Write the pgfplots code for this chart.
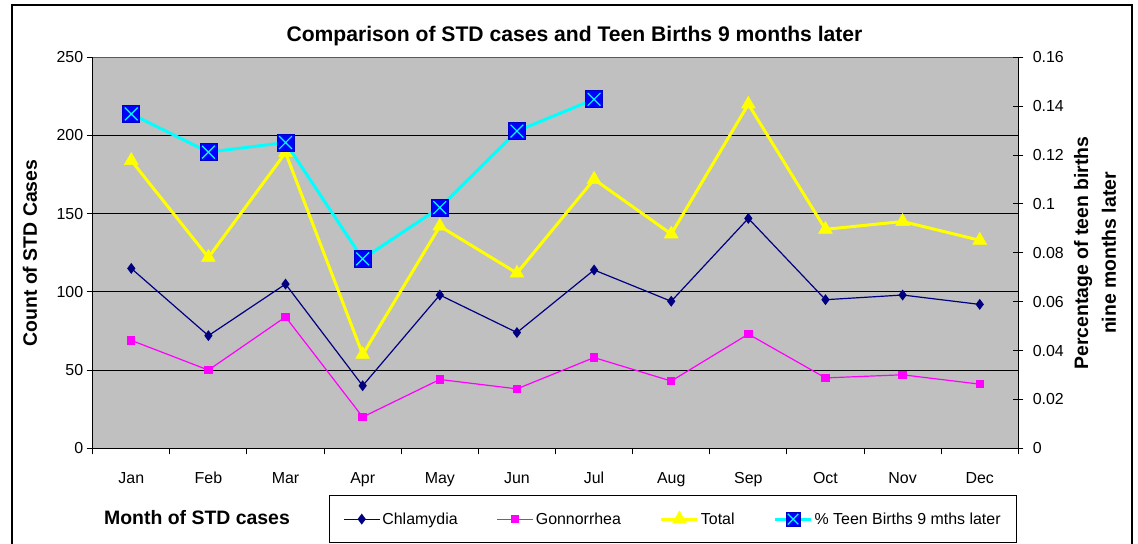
\documentclass[border=0pt]{standalone}
\usepackage{fontspec}
\setmainfont{Liberation Sans}
\usepackage{pgfplots}
\pgfplotsset{compat=1.18}
\definecolor{plotbg}{RGB}{192,192,192}
\definecolor{navy}{RGB}{0,0,128}
\definecolor{mag}{RGB}{255,0,255}
\definecolor{yel}{RGB}{255,255,0}
\definecolor{cyn}{RGB}{0,255,255}
\definecolor{blu}{RGB}{0,0,255}
\definecolor{bluedge}{RGB}{0,0,200}
\pgfdeclareplotmark{sqx}{%
  \pgfsetfillcolor{blu}\pgfsetstrokecolor{bluedge}\pgfsetlinewidth{0.8bp}%
  \pgfpathrectangle{\pgfpoint{-\pgfplotmarksize}{-\pgfplotmarksize}}{\pgfpoint{2\pgfplotmarksize}{2\pgfplotmarksize}}%
  \pgfusepathqfillstroke
  \pgfsetstrokecolor{cyn}\pgfsetlinewidth{1.2bp}%
  \pgfpathmoveto{\pgfpoint{-0.75\pgfplotmarksize}{-0.75\pgfplotmarksize}}%
  \pgfpathlineto{\pgfpoint{0.75\pgfplotmarksize}{0.75\pgfplotmarksize}}%
  \pgfpathmoveto{\pgfpoint{-0.75\pgfplotmarksize}{0.75\pgfplotmarksize}}%
  \pgfpathlineto{\pgfpoint{0.75\pgfplotmarksize}{-0.75\pgfplotmarksize}}%
  \pgfusepathqstroke
}
\newcommand{\tickfont}{\fontsize{16}{19}\selectfont}
\newcommand{\labfont}{\fontsize{19.5}{28}\selectfont\bfseries}
\begin{document}
\begin{tikzpicture}[x=1bp,y=1bp]
\useasboundingbox (0,0) rectangle (1138,544);
\fill[white] (0,0) rectangle (1138,544);
\draw[black, line width=1.3bp] (12,-2) -- (12,539) -- (1132,539) -- (1132,-2);
\begin{axis}[
  scale only axis, width=925.6bp, height=391bp,
  at={(92.7bp,95.7bp)}, anchor=south west,
  xmin=-0.5, xmax=11.5, ymin=0, ymax=250,
  axis background/.style={fill=plotbg},
  axis x line*=bottom, axis y line*=left,
  axis line style={-, black, line width=1bp},
  xtick={-0.5,0.5,1.5,2.5,3.5,4.5,5.5,6.5,7.5,8.5,9.5,10.5,11.5},
  xticklabels={},
  extra x ticks={0,1,2,3,4,5,6,7,8,9,10,11},
  extra x tick labels={Jan,Feb,Mar,Apr,May,Jun,Jul,Aug,Sep,Oct,Nov,Dec},
  extra x tick style={major tick length=0pt, xticklabel style={yshift=-20bp, text height=12bp, text depth=3.5bp}},
  ytick={0,50,100,150,200,250},
  yticklabels={0,50,100,150,200,250},
  extra y ticks={50,100,150,200},
  extra y tick labels={},
  extra y tick style={grid=major, major tick length=0pt},
  grid style={black, line width=0.8bp},
  tick align=outside, major tick length=6bp,
  tick style={black, line width=1bp},
  ticklabel style={font=\tickfont},
  legend columns=4,
  legend cell align=left,
  legend image code/.code={\draw[mark repeat=2,mark phase=2] plot coordinates {(0bp,0bp)(18bp,0bp)(36bp,0bp)};},
  legend style={at={(axis description cs:0.9986,-0.12)}, anchor=north east,
    draw=black, line width=0.8bp, fill=white, font=\tickfont,
    inner xsep=14bp, inner ysep=15bp,
    /tikz/every even column/.append style={column sep=37bp}},
]
\addplot[navy, line width=1.2bp, mark=diamond*, mark size=4.5bp, mark options={solid, fill=navy}]
  coordinates {(0,115)(1,72)(2,105)(3,40)(4,98)(5,74)(6,114)(7,94)(8,147)(9,95)(10,98)(11,92)};
\addlegendentry{Chlamydia}
\addplot[mag, line width=1.2bp, mark=square*, mark size=3.6bp, mark options={solid, fill=mag}]
  coordinates {(0,69)(1,50)(2,84)(3,20)(4,44)(5,38)(6,58)(7,43)(8,73)(9,45)(10,47)(11,41)};
\addlegendentry{Gonnorrhea}
\addplot[yel, line width=3bp, mark=triangle*, mark size=8bp, mark options={solid, fill=yel, line width=0.5bp}]
  coordinates {(0,184)(1,122)(2,189)(3,60)(4,142)(5,112)(6,172)(7,137)(8,220)(9,140)(10,145)(11,133)};
\addlegendentry{Total}
\addlegendimage{cyn, line width=3bp, mark=sqx, mark size=7bp}
\addlegendentry{\% Teen Births 9 mths later}
\end{axis}
\draw[gray!70!black, line width=1bp] (92.7,486.7) -- (1018.3,486.7);
\begin{axis}[
  scale only axis, width=925.6bp, height=391bp,
  at={(92.7bp,95.7bp)}, anchor=south west,
  xmin=-0.5, xmax=11.5, ymin=0, ymax=0.16,
  axis x line=none, axis y line*=right,
  axis line style={-, black, line width=1bp},
  ytick={0,0.02,0.04,0.06,0.08,0.1,0.12,0.14,0.16},
  yticklabels={0,0.02,0.04,0.06,0.08,0.1,0.12,0.14,0.16},
  tick align=center, major tick length=10bp,
  tick style={black, line width=1bp},
  ticklabel style={font=\tickfont},
  yticklabel style={xshift=6bp},
]
\addplot[cyn, line width=3bp, mark=sqx, mark size=8.5bp]
  coordinates {(0,0.1368)(1,0.1212)(2,0.1251)(3,0.0775)(4,0.0985)(5,0.1298)(6,0.1428)};
\end{axis}
\node[font=\fontsize{21.2}{25}\selectfont\bfseries] at (574.5,508) {Comparison of STD cases and Teen Births 9 months later};
\node[font=\labfont, rotate=90] at (30,291) {Count of STD Cases};
\node[font=\labfont, rotate=90, align=center] at (1095,291) {Percentage of teen births\\nine months later};
\node[font=\labfont] at (197,26) {Month of STD cases};
\end{tikzpicture}
\end{document}
